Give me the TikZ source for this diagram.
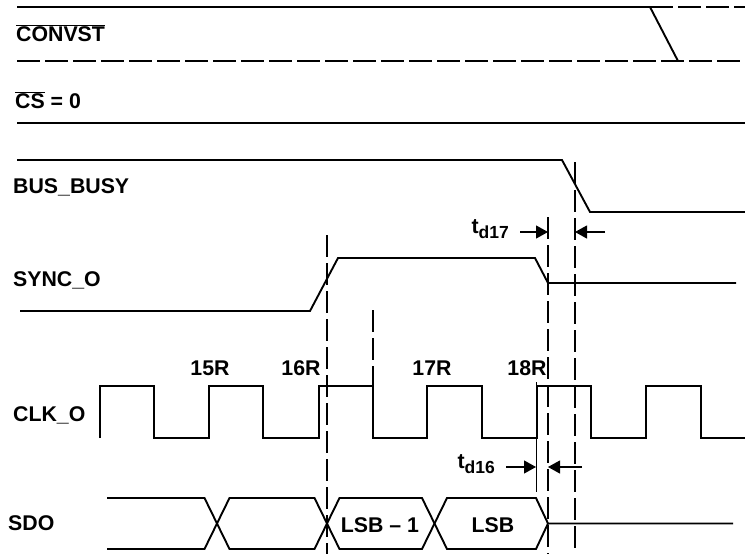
\documentclass[tikz,border=0pt]{standalone}
\usepackage{fontspec}
\setmainfont{Liberation Sans}
\usetikzlibrary{arrows.meta}
\tikzset{
  sinal/.style={line width=1.9pt, line join=miter},
  sinaltrac/.style={line width=1.5pt, dash pattern=on 23pt off 5pt},
  guia/.style={line width=1.1pt, dash pattern=on 22pt off 6pt},
  guiafina/.style={line width=0.9pt},
  seta/.style={-{Triangle[length=12pt,width=13pt]}, line width=1.1pt},
  rotulo/.style={font=\fontsize{21.3}{25}\selectfont\bfseries, inner sep=0pt},
  nome/.style={rotulo, anchor=west},
}
\newcommand{\tempo}[1]{t\raisebox{-5pt}{\fontsize{17.5}{20}\selectfont #1}}

\begin{document}
\begin{tikzpicture}[x=1pt,y=-1pt]
  \useasboundingbox (0,0) rectangle (745,554);

  % Nomes dos sinais
  \node[nome] (nConvst) at (16,33)  {$\overline{\mbox{CONVST}}$};
  \node[nome] (nCs)     at (15,100) {$\overline{\mbox{CS}}$ = 0};
  \node[nome] (nBusy)   at (13,187) {BUS\_BUSY};
  \node[nome] (nSync)   at (13,280) {SYNC\_O};
  \node[nome] (nClk)    at (13,415) {CLK\_O};
  \node[nome] (nSdo)    at (8,523)  {SDO};

  % CONVST
  \draw[sinal] (17,7) -- (650,7) -- (678,61);
  \draw[sinaltrac] (650,7) -- (745,7);
  \draw[sinaltrac] (17,61) -- (745,61);
  % CS = 0
  \draw[sinal, line width=2.4pt] (17,123) -- (745,123);
  % BUS_BUSY
  \draw[sinal] (17,160) -- (562,160) -- (590,212) -- (745,212);
  % SYNC_O
  \draw[sinal] (20,311) -- (310,311) -- (338,258) -- (535,258) -- (548,283) -- (736,283);

  % CLK_O
  \draw[sinal] (100,438)
    \foreach \a/\b in {100/154,209/263,319/373,427/482,537/591,646/701} {
      -- (\a,438) -- (\a,386) -- (\b,386) -- (\b,438)
    } -- (745,438);
  \node[rotulo] (c15) at (210,368) {15R};
  \node[rotulo] (c16) at (301,368) {16R};
  \node[rotulo] (c17) at (432,368) {17R};
  \node[rotulo] (c18) at (527,368) {18R};

  % SDO
  \draw[sinal] (107,498) -- (204.5,498) -- (229.5,549) -- (314.5,549) -- (339.5,498)
    -- (422,498) -- (447,549) -- (536,549) -- (548,523.5) -- (733,523.5);
  \draw[sinal] (107,549) -- (204.5,549) -- (229.5,498) -- (314.5,498) -- (339.5,549)
    -- (422,549) -- (447,498) -- (536,498) -- (548,523.5);
  \node[rotulo] (lsb1) at (380,525) {LSB -- 1};
  \node[rotulo] (lsb)  at (493,525) {LSB};

  % Linhas de referencia
  \draw[guia] (327,235) -- (327,554);
  \draw[guia] (373,310) -- (373,386);
  \draw[guiafina] (536,382) -- (536,492);
  \draw[guia] (548,217) -- (548,554);
  \draw[guia] (575,162) -- (575,548);

  % t_d17
  \coordinate (a17) at (520,232);
  \coordinate (b17) at (605,232);
  \draw[seta] (a17) -- (548,232);
  \draw[seta] (b17) -- (575,232);
  \node[rotulo, anchor=east] (t17) at (509,229) {\tempo{d17}};

  % t_d16
  \coordinate (a16) at (506,467);
  \coordinate (b16) at (582,467);
  \draw[seta] (a16) -- (536,467);
  \draw[seta] (b16) -- (548,467);
  \node[rotulo, anchor=east] (t16) at (495,464) {\tempo{d16}};
\end{tikzpicture}
\end{document}
